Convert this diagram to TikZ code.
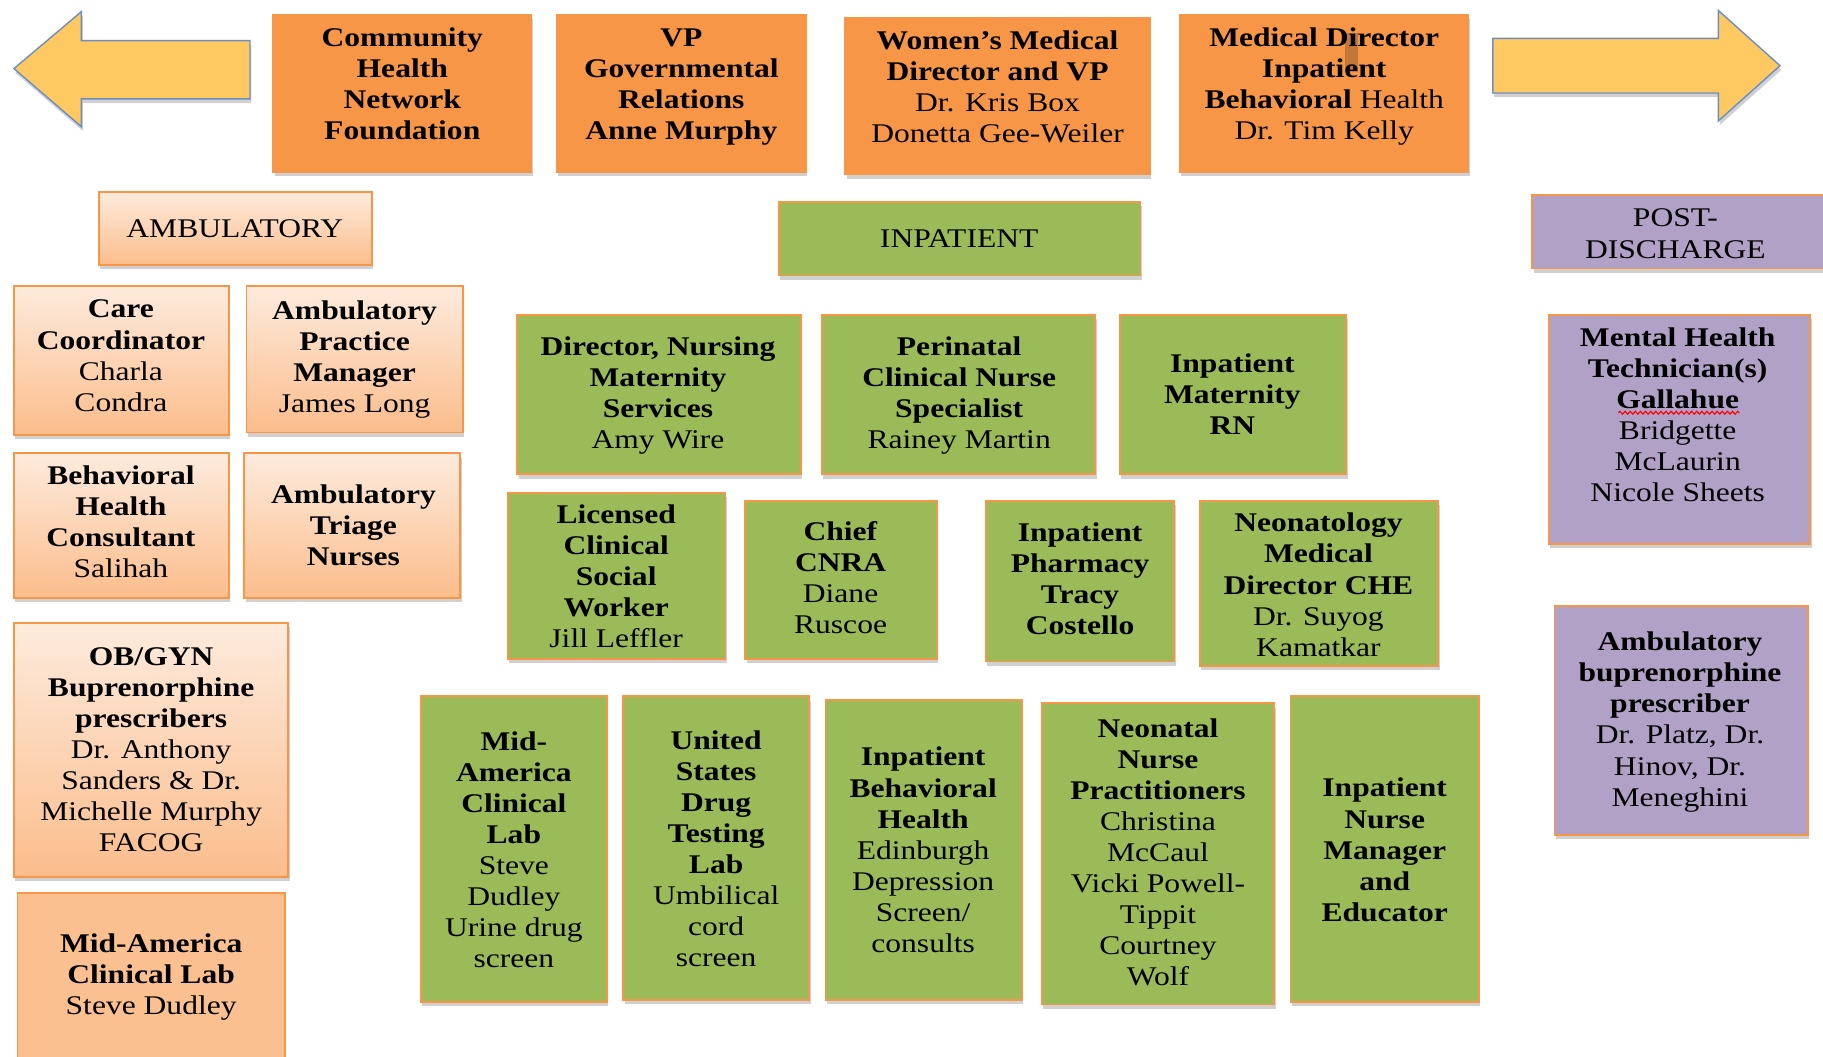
\documentclass[tikz,border=0pt]{standalone}
\usepackage{fontspec}
\setmainfont{Liberation Serif}[FakeStretch=1.17]
\usetikzlibrary{fit,shadows,decorations.pathmorphing}

\definecolor{orgF}{HTML}{F79646}
\definecolor{grn}{HTML}{9BBB59}
\definecolor{pur}{HTML}{B2A1C7}
\definecolor{peachT}{HTML}{FDEBDD}
\definecolor{peachB}{HTML}{FBBD8C}
\definecolor{peachS}{HTML}{FAC08F}
\definecolor{arrowF}{HTML}{FFC961}
\definecolor{arrowD}{HTML}{6C8EBF}
\definecolor{curs}{HTML}{C27638}

\begin{document}
\begin{tikzpicture}[x=0.5pt,y=-0.5pt,
  shd/.style={drop shadow={shadow xshift=0.6pt,shadow yshift=-1.8pt,opacity=0.3,fill=black!60}},
  base/.style={rectangle, inner sep=0pt, line width=0.8pt, draw=orgF, shd},
  topbox/.style={base, fill=orgF},
  gbox/.style={base, fill=grn},
  pbox/.style={base, fill=pur},
  abox/.style={base, top color=peachT, bottom color=peachB},
  sbox/.style={base, fill=peachS},
  txt/.style={align=center, inner sep=0pt, font=\fontsize{11.6}{13.35}\selectfont},
  bigarrow/.style={fill=arrowF, draw=arrowD, line width=0.6pt, shd}
]
\clip (0,0) rectangle (1568,909);
\fill[white] (0,0) rectangle (1568,909);

% arrows
\draw[bigarrow] (12,59) -- (70,10) -- (70,35) -- (215,35) -- (215,85) -- (70,85) -- (70,109) -- cycle;
\draw[bigarrow] (1284,33) -- (1478,33) -- (1478,9) -- (1531,56.5) -- (1478,104) -- (1478,80) -- (1284,80) -- cycle;

% top row
\node[topbox, fit={(235,13) (457,148)}] (chnf) {};
\node[txt] (chnf-t) at (346,72) {\textbf{Community}\\\textbf{Health}\\\textbf{Network}\\\textbf{Foundation}};
\node[topbox, fit={(479,13) (693,148)}] (vpgr) {};
\node[txt] (vpgr-t) at (586,75) {\textbf{VP}\\\textbf{Governmental}\\\textbf{Relations}\\\textbf{Anne Murphy}};
\node[topbox, fit={(727,15) (989,150)}] (wmd) {};
\node[txt] (wmd-t) at (858,75) {\textbf{Women’s Medical}\\\textbf{Director and VP}\\Dr. Kris Box\\Donetta Gee-Weiler};
\node[topbox, fit={(1015,13) (1263,148)}] (mdibh) {};
\fill[curs] (1157,28) rectangle (1168,62);
\node[txt] (mdibh-t) at (1139,74.5) {\textbf{Medical Director}\\\textbf{Inpatient}\\\textbf{Behavioral} Health\\Dr. Tim Kelly};

% section headers
\node[abox, fit={(85,165) (320,228)}] (amb) {};
\node[txt] (amb-t) at (202,197) {AMBULATORY};
\node[gbox, fit={(670,174) (981,237)}] (inp) {};
\node[txt] (inp-t) at (825,205) {INPATIENT};
\node[pbox, fit={(1318,168) (1590,231)}] (post) {};
\node[txt] (post-t) at (1441,201) {POST-\\DISCHARGE};

% ambulatory
\node[abox, fit={(12,246) (197,374)}] (cc) {};
\node[txt] (cc-t) at (104,306) {\textbf{Care}\\\textbf{Coordinator}\\Charla\\Condra};
\node[abox, fit={(212,246) (398,372)}] (apm) {};
\node[txt] (apm-t) at (305,309) {\textbf{Ambulatory}\\\textbf{Practice}\\\textbf{Manager}\\James Long};
\node[abox, fit={(12,390) (197,514)}] (bhc) {};
\node[txt] (bhc-t) at (104,449) {\textbf{Behavioral}\\\textbf{Health}\\\textbf{Consultant}\\Salihah};
\node[abox, fit={(210,390) (396,514)}] (atn) {};
\node[txt] (atn-t) at (304,452) {\textbf{Ambulatory}\\\textbf{Triage}\\\textbf{Nurses}};
\node[abox, fit={(12,536) (248,754)}] (obgyn) {};
\node[txt] (obgyn-t) at (130,645) {\textbf{OB/GYN}\\\textbf{Buprenorphine}\\\textbf{prescribers}\\Dr. Anthony\\Sanders \& Dr.\\Michelle Murphy\\FACOG};
\node[sbox, fit={(15,768) (245,940)}] (mac1) {};
\node[txt] (mac1-t) at (130,840) {\textbf{Mid-America}\\\textbf{Clinical Lab}\\Steve Dudley};

% inpatient row 1
\node[gbox, fit={(445,271) (689,408)}] (dnms) {};
\node[txt] (dnms-t) at (566,340) {\textbf{Director, Nursing}\\\textbf{Maternity}\\\textbf{Services}\\Amy Wire};
\node[gbox, fit={(707,271) (942,408)}] (pcns) {};
\node[txt] (pcns-t) at (825,340) {\textbf{Perinatal}\\\textbf{Clinical Nurse}\\\textbf{Specialist}\\Rainey Martin};
\node[gbox, fit={(963,271) (1158,408)}] (imrn) {};
\node[txt] (imrn-t) at (1060,339) {\textbf{Inpatient}\\\textbf{Maternity}\\\textbf{RN}};

% inpatient row 2
\node[gbox, fit={(437,424) (624,567)}] (lcsw) {};
\node[txt] (lcsw-t) at (530,496) {\textbf{Licensed}\\\textbf{Clinical}\\\textbf{Social}\\\textbf{Worker}\\Jill Leffler};
\node[gbox, fit={(641,431) (806,567)}] (cnra) {};
\node[txt] (cnra-t) at (723,497) {\textbf{Chief}\\\textbf{CNRA}\\Diane\\Ruscoe};
\node[gbox, fit={(848,431) (1010,569)}] (iph) {};
\node[txt] (iph-t) at (929,498) {\textbf{Inpatient}\\\textbf{Pharmacy}\\\textbf{Tracy}\\\textbf{Costello}};
\node[gbox, fit={(1032,431) (1237,573)}] (neo) {};
\node[txt] (neo-t) at (1134,503) {\textbf{Neonatology}\\\textbf{Medical}\\\textbf{Director CHE}\\Dr. Suyog\\Kamatkar};

% inpatient row 3
\node[gbox, fit={(362,599) (522,862)}] (mac2) {};
\node[txt] (mac2-t) at (442,731) {\textbf{Mid-}\\\textbf{America}\\\textbf{Clinical}\\\textbf{Lab}\\Steve\\Dudley\\Urine drug\\screen};
\node[gbox, fit={(536,599) (696,860)}] (usdt) {};
\node[txt] (usdt-t) at (616,730) {\textbf{United}\\\textbf{States}\\\textbf{Drug}\\\textbf{Testing}\\\textbf{Lab}\\Umbilical\\cord\\screen};
\node[gbox, fit={(710,602) (879,860)}] (ibh) {};
\node[txt] (ibh-t) at (794,731) {\textbf{Inpatient}\\\textbf{Behavioral}\\\textbf{Health}\\Edinburgh\\Depression\\Screen/\\consults};
\node[gbox, fit={(896,605) (1096,864)}] (nnp) {};
\node[txt] (nnp-t) at (996,733) {\textbf{Neonatal}\\\textbf{Nurse}\\\textbf{Practitioners}\\Christina\\McCaul\\Vicki Powell-\\Tippit\\Courtney\\Wolf};
\node[gbox, fit={(1110,599) (1272,862)}] (inme) {};
\node[txt] (inme-t) at (1191,731) {\textbf{Inpatient}\\\textbf{Nurse}\\\textbf{Manager}\\\textbf{and}\\\textbf{Educator}};

% post-discharge
\node[pbox, fit={(1332,271) (1557,468)}] (mht) {};
\node[txt] (mht-t) at (1443,356.5) {\textbf{Mental Health}\\\textbf{Technician(s)}\\\textbf{Gallahue}\\Bridgette\\McLaurin\\Nicole Sheets};
\draw[red, line width=0.5pt, decorate, decoration={snake, amplitude=0.6pt, segment length=2.2pt}] (1392,355) -- (1496,355);
\node[pbox, fit={(1337,521) (1555,718)}] (abp) {};
\node[txt] (abp-t) at (1445,621) {\textbf{Ambulatory}\\\textbf{buprenorphine}\\\textbf{prescriber}\\Dr. Platz, Dr.\\Hinov, Dr.\\Meneghini};
\end{tikzpicture}
\end{document}
